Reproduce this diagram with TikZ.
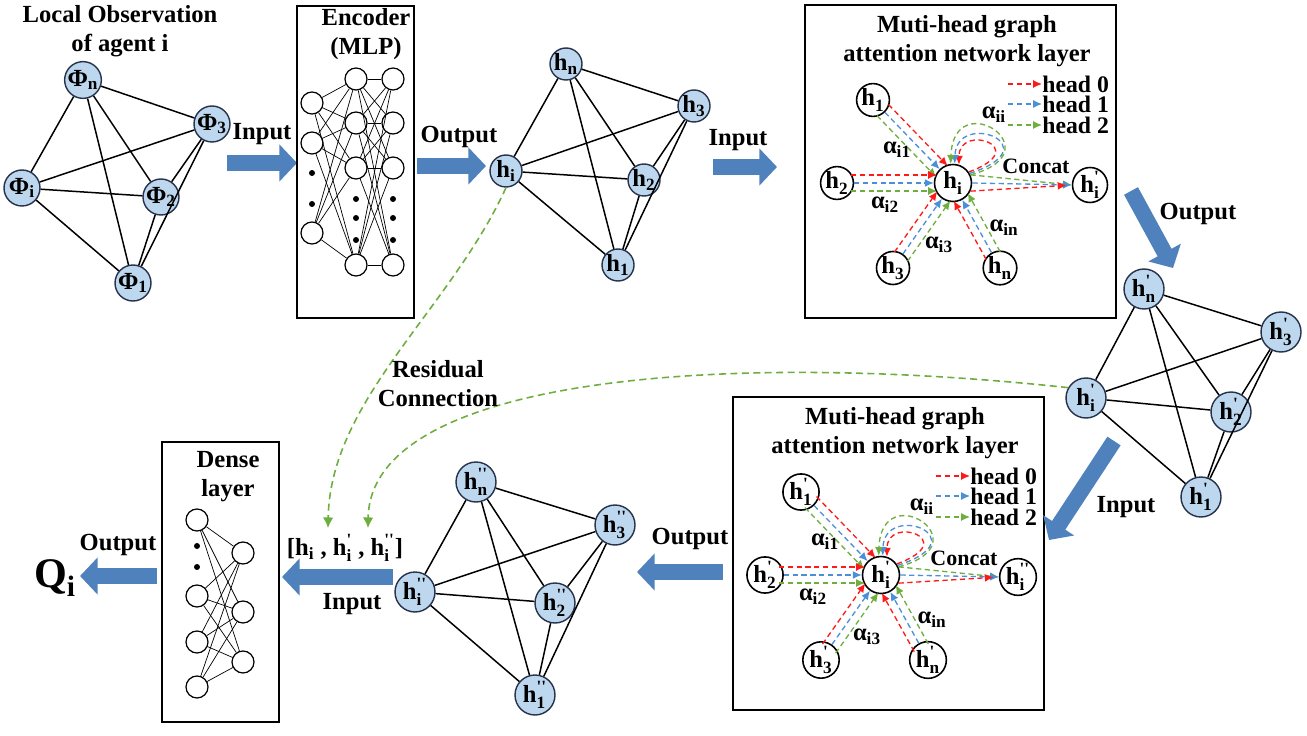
\documentclass[tikz,border=0pt]{standalone}
\usepackage{amsmath}
\usepackage{fontspec}
\setmainfont{Liberation Serif}
\usetikzlibrary{arrows.meta,calc}
\definecolor{nodeblue}{HTML}{BDD7EE}
\definecolor{nodeline}{HTML}{26324A}
\definecolor{fatblue}{HTML}{4F81BD}
\definecolor{hred}{HTML}{FF1A1A}
\definecolor{hblue}{HTML}{4A8FD8}
\definecolor{hgreen}{HTML}{6DAE3F}
\newcommand{\hs}[2]{$\text{#1}_{\text{#2}}$}
\newcommand{\hp}[3]{$\text{#1}^{\text{#3}}_{\text{#2}}$}
\newcommand{\pr}{\textquotesingle}
\newcommand{\dpr}{\textquotesingle\textquotesingle}
\tikzset{
  ttl/.style={font=\fontsize{14}{16.5}\selectfont\bfseries, align=center, inner sep=0pt},
  lab/.style={font=\fontsize{14}{16}\selectfont\bfseries, inner sep=0pt},
  lgd/.style={font=\fontsize{13.5}{15}\selectfont\bfseries, inner sep=0pt},
  small/.style={font=\fontsize{12.5}{14}\selectfont\bfseries, inner sep=0pt},
  gnode/.style={circle, draw=nodeline, fill=nodeblue, line width=0.8pt, inner sep=0pt, minimum size=#1, font=\fontsize{14}{16}\selectfont\bfseries},
  anode/.style={circle, draw=black, fill=white, line width=0.9pt, inner sep=0pt, minimum size=#1, font=\fontsize{14}{16}\selectfont\bfseries},
  neuron/.style={circle, draw=black, line width=0.7pt, inner sep=0pt, minimum size=0.44cm, fill=white},
  ndot/.style={circle, fill=black, inner sep=0pt, minimum size=0.12cm},
  gedge/.style={line width=0.85pt, draw=black},
  wire/.style={line width=0.4pt, draw=black},
  panelbox/.style={draw=black, line width=0.9pt},
  fat/.style={draw=fatblue, line width=9pt, -{Triangle[length=10pt,width=20.5pt]}},
  att/.style={draw=#1, dashed, dash pattern=on 3pt off 2pt, line width=0.75pt, -{Latex[length=5pt,width=4.5pt]}},
  res/.style={draw=hgreen, dashed, dash pattern=on 4pt off 2.5pt, line width=0.9pt, -{Latex[length=6pt,width=6pt]}},
}
\begin{document}
\begin{tikzpicture}[x=0.02cm, y=-0.02cm, font=\bfseries]
  \useasboundingbox (0,0) rectangle (1307,736);

  % local observation
  \node[ttl] (obs) at (120,31) {Local Observation\\of agent i};
  \node[gnode=0.72cm] (pn) at (83,80) {\hs{Φ}{n}};
  \node[gnode=0.72cm] (p3) at (212,124) {\hs{Φ}{3}};
  \node[gnode=0.72cm] (pi) at (22,188) {\hs{Φ}{i}};
  \node[gnode=0.72cm] (p2) at (161,197) {\hs{Φ}{2}};
  \node[gnode=0.72cm] (p1) at (133,283) {\hs{Φ}{1}};
  \foreach \a/\b in {n/3,n/i,n/2,n/1,3/i,3/2,3/1,i/2,i/1,2/1} \draw[gedge] (p\a) -- (p\b);

  \coordinate (a1s) at (227,163); \coordinate (a1e) at (297,163);
  \draw[fat] (a1s) -- (a1e);
  \node[lab] (a1l) at (262,134) {Input};

  % encoder
  \draw[panelbox] (297,6) rectangle (414,318);
  \node[ttl] (enc) at (366,34) {Encoder\\(MLP)};
  \foreach \y [count=\k] in {103,143,233} \node[neuron] (e1\k) at (312,\y) {};
  \foreach \y [count=\k] in {79,123,168,265} {
    \node[neuron] (e2\k) at (356,\y) {};
    \node[neuron] (e3\k) at (393,\y) {};
  }
  \foreach \y in {173,204} \node[ndot] (d1\y) at (312,\y) {};
  \foreach \y in {199,218,240} {
    \node[ndot] (d2\y) at (356,\y) {};
    \node[ndot] (d3\y) at (393,\y) {};
  }
  \foreach \a in {1,...,3} \foreach \b in {1,...,4} \draw[wire] (e1\a) -- (e2\b);
  \foreach \a in {1,...,4} \foreach \b in {1,...,4} \draw[wire] (e2\a) -- (e3\b);

  \coordinate (a2s) at (417,166); \coordinate (a2e) at (486,166);
  \draw[fat] (a2s) -- (a2e);
  \node[lab] (a2l) at (459,137) {Output};

  % embedding graph
  \node[gnode=0.64cm] (gn) at (566,64) {\hs{h}{n}};
  \node[gnode=0.64cm] (g3) at (694,106) {\hs{h}{3}};
  \node[gnode=0.64cm] (gi) at (506,171) {\hs{h}{i}};
  \node[gnode=0.64cm] (g2) at (644,180) {\hs{h}{2}};
  \node[gnode=0.64cm] (g1) at (618,265) {\hs{h}{1}};
  \foreach \a/\b in {n/3,n/i,n/2,n/1,3/i,3/2,3/1,i/2,i/1,2/1} \draw[gedge] (g\a) -- (g\b);

  \coordinate (a3s) at (713,167); \coordinate (a3e) at (777,167);
  \draw[fat] (a3s) -- (a3e);
  \node[lab] (a3l) at (738,140) {Input};

  % attention layers
  \foreach \ox/\oy/\s/\pa/\pb in {805/5/a/{}/\pr, 733/397/b/\pr/\dpr} {
    \begin{scope}[shift={(\ox,\oy)}]
      \draw[panelbox] (0,0) rectangle (311,313);
      \node[ttl] (tt\s) at (162,36) {Muti-head graph\\attention network layer};
      \node[anode=0.74cm] (c\s) at (148,178) {\hp{h}{i}{\pa}};
      \node[anode=0.64cm] (n1\s) at (68,95) {\hp{h}{1}{\pa}};
      \node[anode=0.64cm] (n2\s) at (32,178) {\hp{h}{2}{\pa}};
      \node[anode=0.64cm] (n3\s) at (88,263) {\hp{h}{3}{\pa}};
      \node[anode=0.64cm] (nn\s) at (195,263) {\hp{h}{n}{\pa}};
      \node[anode=0.7cm] (o\s) at (285,180) {\hp{h}{i}{\pb}};
      \foreach \k/\col/\yy in {0/hred/79,1/hblue/99,2/hgreen/120} {
        \node[lgd, anchor=west] (l\k\s) at (237,\yy) {head \k};
        \coordinate (q\k\s) at (203,\yy);
        \draw[att=\col] (q\k\s) -- (l\k\s.west);
      }
      \foreach \m in {n1,n2,n3,nn} {
        \draw[att=hred, shorten <=0.28cm, shorten >=0.32cm] ($(\m\s)!0.16cm!90:(c\s)$) -- ($(c\s)!0.16cm!-90:(\m\s)$);
        \draw[att=hblue] (\m\s) -- (c\s);
        \draw[att=hgreen, shorten <=0.28cm, shorten >=0.32cm] ($(\m\s)!0.16cm!-90:(c\s)$) -- ($(c\s)!0.16cm!90:(\m\s)$);
      }
      \draw[att=hgreen] (c\s.25) -- (o\s.west);
      \draw[att=hblue] (c\s.0) -- (o\s.west);
      \draw[att=hred, shorten >=3pt] (c\s.-25) -- (o\s.west);
      \draw[att=hred] (c\s.35) .. controls +(20:1.4cm) and +(90:0.85cm) .. (c\s.72);
      \draw[att=hblue] (c\s.30) .. controls +(18:1.75cm) and +(88:1.1cm) .. (c\s.85);
      \draw[att=hgreen] (c\s.25) .. controls +(15:1.8cm) and +(88:1.6cm) .. (c\s.97);
      \node[lab] (aii\s) at (189,110) {\hs{α}{ii}};
      \node[small] (cc\s) at (231,161) {Concat};
      \node[lab] (ai1\s) at (92,145) {\hs{α}{i1}};
      \node[lab] (ai2\s) at (80,200) {\hs{α}{i2}};
      \node[lab] (ai3\s) at (134,240) {\hs{α}{i3}};
      \node[lab] (ain\s) at (199,223) {\hs{α}{in}};
    \end{scope}
  }

  \coordinate (a4s) at (1131,191); \coordinate (a4e) at (1173,268);
  \draw[fat] (a4s) -- (a4e);
  \node[lab] (a4l) at (1198,214) {Output};

  % first attention output graph
  \node[gnode=0.8cm] (hn) at (1144,289) {\hp{h}{n}{\pr}};
  \node[gnode=0.8cm] (h3) at (1281,332) {\hp{h}{3}{\pr}};
  \node[gnode=0.8cm] (hi) at (1086,398) {\hp{h}{i}{\pr}};
  \node[gnode=0.8cm] (h2) at (1231,412) {\hp{h}{2}{\pr}};
  \node[gnode=0.8cm] (h1) at (1201,497) {\hp{h}{1}{\pr}};
  \foreach \a/\b in {n/3,n/i,n/2,n/1,3/i,3/2,3/1,i/2,i/1,2/1} \draw[gedge] (h\a) -- (h\b);

  \coordinate (a5s) at (1114,441); \coordinate (a5e) at (1049,540);
  \draw[fat] (a5s) -- (a5e);
  \node[lab] (a5l) at (1126,507) {Input};

  \coordinate (a6s) at (723,572); \coordinate (a6e) at (637,572);
  \draw[fat] (a6s) -- (a6e);
  \node[lab] (a6l) at (690,539) {Output};

  % second attention output graph
  \node[gnode=0.8cm] (kn) at (476,482) {\hp{h}{n}{\dpr}};
  \node[gnode=0.8cm] (k3) at (615,525) {\hp{h}{3}{\dpr}};
  \node[gnode=0.8cm] (ki) at (415,592) {\hp{h}{i}{\dpr}};
  \node[gnode=0.8cm] (k2) at (555,603) {\hp{h}{2}{\dpr}};
  \node[gnode=0.8cm] (k1) at (535,695) {\hp{h}{1}{\dpr}};
  \foreach \a/\b in {n/3,n/i,n/2,n/1,3/i,3/2,3/1,i/2,i/1,2/1} \draw[gedge] (k\a) -- (k\b);

  \coordinate (a7s) at (393,577); \coordinate (a7e) at (282,577);
  \draw[fat] (a7s) -- (a7e);
  \node[lab] (cat) at (345,548) {[\hs{h}{i} , \hp{h}{i}{\pr} , \hp{h}{i}{\dpr}]};
  \node[lab] (a7l) at (352,604) {Input};

  % dense layer
  \draw[panelbox] (162,442) rectangle (279,722);
  \node[ttl] (dns) at (228,477) {Dense\\layer};
  \foreach \y [count=\k] in {520,596,642,687} \node[neuron] (u\k) at (197,\y) {};
  \foreach \y [count=\k] in {553,612,662} \node[neuron] (v\k) at (243,\y) {};
  \foreach \y in {546,567} \node[ndot] (du\y) at (197,\y) {};
  \foreach \a in {1,...,4} \foreach \b in {1,...,3} \draw[wire] (u\a) -- (v\b);

  \coordinate (a8s) at (157,576); \coordinate (a8e) at (80,576);
  \draw[fat] (a8s) -- (a8e);
  \node[lab] (a8l) at (118,545) {Output};
  \node[font=\fontsize{24}{26}\selectfont\bfseries, inner sep=0pt] (qi) at (55,578) {\hs{Q}{i}};

  % residual connections
  \coordinate (r1e) at (328,528); \coordinate (r2e) at (368,528);
  \draw[res] (gi.south) .. controls (450,310) and (330,400) .. (r1e);
  \draw[res] (hi.150) .. controls (720,350) and (370,378) .. (r2e);
  \node[ttl] (rc) at (438,384) {Residual\\Connection};
\end{tikzpicture}
\end{document}
